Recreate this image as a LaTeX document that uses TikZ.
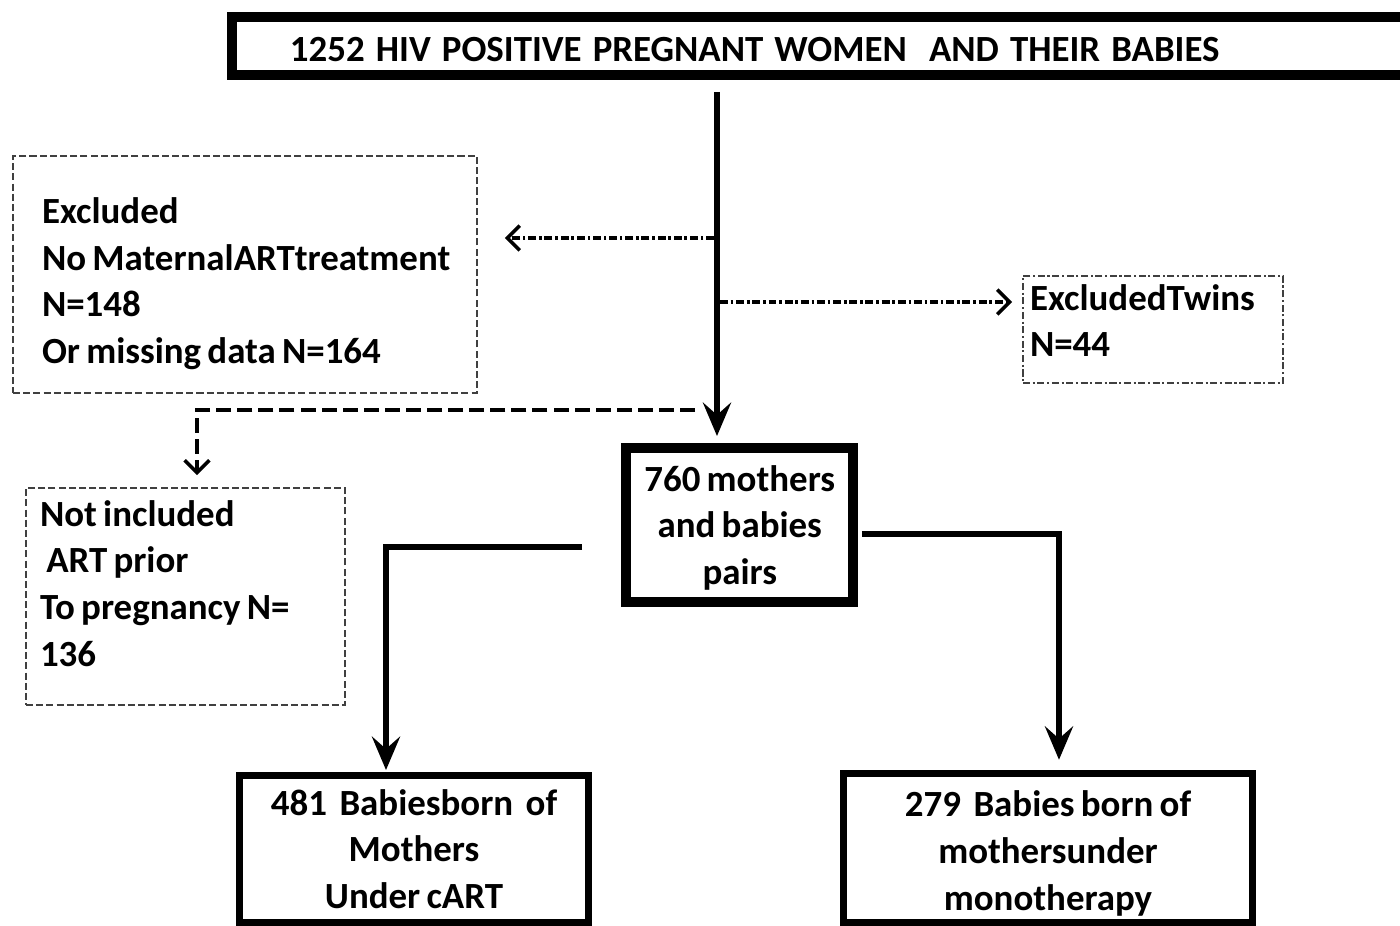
\documentclass[tikz,border=0pt]{standalone}
\usepackage{fontspec}
\setmainfont{Carlito}[WordSpace=0.75]
\usetikzlibrary{arrows.meta}

\begin{document}
\begin{tikzpicture}[
  x=0.02cm, y=-0.02cm,
  every node/.style={font=\bfseries\fontsize{21}{26.5}\selectfont, outer sep=0pt},
  solidbox/.style={draw, line width=4pt, align=center, inner sep=0pt},
  dashbox/.style={draw=black!75, line width=1.3pt, dash pattern=on 4pt off 1.8pt, align=flush left, inner ysep=0pt},
  dotbox/.style={draw=black!75, line width=1.2pt, dash pattern=on 4pt off 1.5pt on 1.2pt off 1.5pt, align=flush left, inner ysep=0pt},
  thickarr/.style={line width=3.4pt, -{Stealth[length=19pt, width=16pt, inset=7pt]}},
  dotarr/.style={line width=1.8pt, dash pattern=on 4.5pt off 1.6pt on 1.5pt off 1.6pt, -{Straight Barb[length=7pt, width=14pt, line width=2pt]}},
  dasharr/.style={line width=1.8pt, dash pattern=on 8.5pt off 3.5pt, -{Straight Barb[length=7pt, width=14pt, line width=2pt]}}
]
\useasboundingbox (0,0) rectangle (1400,926);
\clip (0,0) rectangle (1400,926);

% boxes
\node[solidbox, line width=5.7pt, anchor=west, minimum height=1.16cm, text width=21.44cm, inner xsep=1.16cm, align=flush left] (top) at (232,46) {\spaceskip=0.3em\relax\rule{0pt}{18pt}1252 HIV POSITIVE PREGNANT WOMEN~ AND THEIR BABIES};
\node[dashbox, minimum height=4.74cm, text width=8.12cm, inner xsep=0.58cm] (excl) at (245,274.5) {\rule{0pt}{25pt}Excluded\\\mbox{No MaternalARTtreatment}\\N=148\\\mbox{Or missing data N=164}};
\node[dotbox, minimum height=2.14cm, text width=4.92cm, inner xsep=0.14cm] (twins) at (1153,329.5) {ExcludedTwins\\N=44\rule[-10pt]{0pt}{10pt}};
\node[dashbox, minimum height=4.34cm, text width=5.82cm, inner xsep=0.28cm] (notinc) at (185.5,596.5) {Not included\\\ ART prior\\\mbox{To pregnancy N=}\\136\rule[-15pt]{0pt}{15pt}};
\node[solidbox, line width=5.7pt, minimum width=4.55cm, minimum height=3.08cm] (pairs) at (739.75,525) {\rule{0pt}{18pt}760 mothers\\and babies\\pairs};
\node[solidbox, minimum width=7cm, minimum height=2.95cm] (cart) at (414,848.75) {481~ Babiesborn~ of\\Mothers\\Under cART};
\node[solidbox, minimum width=8.2cm, minimum height=2.97cm] (mono) at (1048,848) {\rule{0pt}{21pt}279~ Babies born of\\mothersunder\\monotherapy};

% split points on the trunk
\coordinate (trunk) at (717,92);
\coordinate (jA) at (714,238);
\coordinate (jB) at (720,302);
\coordinate (jC) at (695,410);

\draw[thickarr, shorten <=0.34cm, shorten >=0.24cm] (top.south -| trunk) -- (pairs.north -| trunk);
\draw[dotarr, shorten >=0.56cm] (jA) -- (jA -| excl.east);
\draw[dotarr, shorten >=0.22cm] (jB) -- (jB -| twins.west);
\draw[dasharr, shorten >=0.26cm] (jC) -| ([xshift=0.23cm]notinc.north);
\draw[thickarr, shorten <=0.88cm, shorten >=0.1cm] ([yshift=-0.44cm]pairs.west) -| ([xshift=-0.56cm]cart.north);
\draw[thickarr, shorten <=0.17cm, shorten >=0.28cm] ([yshift=-0.18cm]pairs.east) -| ([xshift=0.22cm]mono.north);
\end{tikzpicture}
\end{document}
